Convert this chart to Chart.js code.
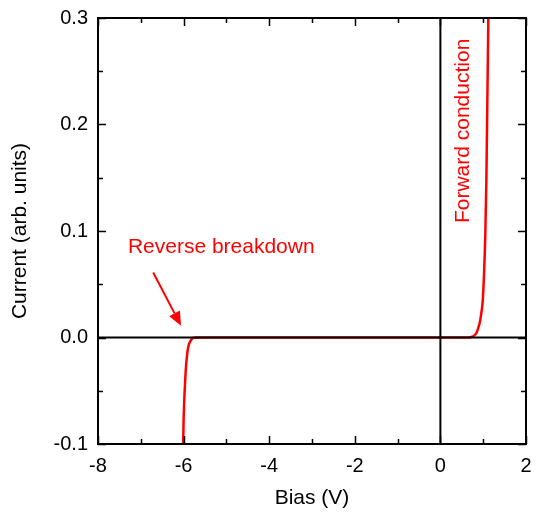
<!DOCTYPE html>
<html>
<head>
<meta charset="utf-8">
<script src="https://cdn.jsdelivr.net/npm/chart.js@4/dist/chart.umd.min.js"></script>
<style>
  html, body { margin: 0; padding: 0; background: #fff; }
  #wrap { width: 537px; height: 514px; }
</style>
</head>
<body>
<div id="wrap"><canvas id="ivChart" width="537" height="514"></canvas></div>
<script>
// Courbe I-V
const bias = [-6.01, -6.0, -5.985, -5.965, -5.945, -5.925, -5.905, -5.88, -5.85, -5.82, -5.79, -5.76, -5.7,
              0.6, 0.7, 0.78, 0.85, 0.9, 0.93, 0.96, 0.99, 1.02, 1.05, 1.075, 1.096, 1.11, 1.12];
const current = [-0.1, -0.078, -0.059, -0.042, -0.028, -0.019, -0.012, -0.007, -0.004, -0.002, -0.0008, -0.0002, 0,
                 0, 0.0003, 0.0015, 0.005, 0.011, 0.016, 0.024, 0.035, 0.06, 0.098, 0.15, 0.22, 0.265, 0.3];

// Graduations
const xMajorTicks = [-8, -6, -4, -2, 0, 2];
const xMinorTicks = [-7, -5, -3, -1, 1];
const yMajorTicks = [-0.1, 0.0, 0.1, 0.2, 0.3];
const yMinorTicks = [-0.05, 0.05, 0.15, 0.25];

// Annotations (en unités des axes)
const reverseLabel = { text: 'Reverse breakdown', x: -5.12, y: 0.085 };
const reverseArrow = { x0: -6.71, y0: 0.061, x1: -6.06, y1: 0.011 };
const forwardLabel = { text: 'Forward conduction', x: 0.53, y: 0.194 };

const FONT = '"Liberation Sans", Arial, sans-serif';

// Cadre, graduations internes, axes zéro et textes
const framePlugin = {
    id: 'framePlugin',
    afterDatasetsDraw(chart) {
        const { ctx, chartArea: a, scales: { x, y } } = chart;
        ctx.save();
        ctx.strokeStyle = '#000';
        ctx.lineWidth = 2;
        // lignes zéro
        ctx.beginPath();
        ctx.moveTo(a.left, y.getPixelForValue(0));
        ctx.lineTo(a.right, y.getPixelForValue(0));
        ctx.moveTo(x.getPixelForValue(0), a.top);
        ctx.lineTo(x.getPixelForValue(0), a.bottom);
        ctx.stroke();
        // cadre
        ctx.strokeRect(a.left, a.top, a.right - a.left, a.bottom - a.top);
        // graduations
        ctx.lineWidth = 1.5;
        ctx.beginPath();
        const tickX = (vals, len) => vals.forEach(v => {
            const px = Math.round(x.getPixelForValue(v)) + 0.5;
            ctx.moveTo(px, a.bottom); ctx.lineTo(px, a.bottom - len);
            ctx.moveTo(px, a.top); ctx.lineTo(px, a.top + len);
        });
        const tickY = (vals, len) => vals.forEach(v => {
            const py = Math.round(y.getPixelForValue(v)) + 0.5;
            ctx.moveTo(a.left, py); ctx.lineTo(a.left + len, py);
            ctx.moveTo(a.right, py); ctx.lineTo(a.right - len, py);
        });
        tickX(xMajorTicks, 8); tickX(xMinorTicks, 5);
        tickY(yMajorTicks, 8); tickY(yMinorTicks, 5);
        ctx.stroke();

        // textes rouges
        ctx.fillStyle = '#ff0000';
        ctx.strokeStyle = '#ff0000';
        ctx.font = '21px ' + FONT;
        ctx.textAlign = 'center';
        ctx.textBaseline = 'middle';
        ctx.fillText(reverseLabel.text, x.getPixelForValue(reverseLabel.x), y.getPixelForValue(reverseLabel.y));

        ctx.save();
        ctx.translate(x.getPixelForValue(forwardLabel.x), y.getPixelForValue(forwardLabel.y));
        ctx.rotate(-Math.PI / 2);
        ctx.fillText(forwardLabel.text, 0, 0);
        ctx.restore();

        // flèche
        const x0 = x.getPixelForValue(reverseArrow.x0), y0 = y.getPixelForValue(reverseArrow.y0);
        const x1 = x.getPixelForValue(reverseArrow.x1), y1 = y.getPixelForValue(reverseArrow.y1);
        const ang = Math.atan2(y1 - y0, x1 - x0);
        const hl = 14, hw = 6;
        const bx = x1 - hl * Math.cos(ang), by = y1 - hl * Math.sin(ang);
        ctx.lineWidth = 2;
        ctx.beginPath();
        ctx.moveTo(x0, y0); ctx.lineTo(bx, by);
        ctx.stroke();
        ctx.beginPath();
        ctx.moveTo(x1, y1);
        ctx.lineTo(bx + hw * Math.sin(ang), by - hw * Math.cos(ang));
        ctx.lineTo(bx - hw * Math.sin(ang), by + hw * Math.cos(ang));
        ctx.closePath();
        ctx.fill();
        ctx.restore();
    }
};

const ctx1 = document.getElementById('ivChart').getContext('2d');
const ivChart = new Chart(ctx1, {
    type: 'scatter',
    data: {
        datasets: [{
            data: bias.map((b, i) => ({ x: b, y: current[i] })),
            showLine: true,
            borderColor: '#ff0000',
            borderWidth: 2.5,
            pointRadius: 0,
            cubicInterpolationMode: 'monotone',
            fill: false
        }]
    },
    options: {
        responsive: false,
        animation: false,
        events: [],
        layout: { padding: { top: 18, right: 11, left: 0, bottom: 0 } },
        plugins: { legend: { display: false }, tooltip: { enabled: false } },
        scales: {
            x: {
                type: 'linear',
                min: -8, max: 2,
                afterBuildTicks: s => { s.ticks = xMajorTicks.map(v => ({ value: v })); },
                afterFit: s => { s.height = 70; s.paddingLeft = 0; s.paddingRight = 0; },
                grid: { display: false, drawTicks: false },
                border: { display: false },
                ticks: { color: '#000', padding: 10, font: { family: FONT, size: 20 } },
                title: { display: true, text: 'Bias (V)', color: '#000', padding: { top: 0, bottom: 3 }, font: { family: FONT, size: 21 } }
            },
            y: {
                type: 'linear',
                min: -0.1, max: 0.3,
                afterBuildTicks: s => { s.ticks = yMajorTicks.map(v => ({ value: v })); },
                afterFit: s => { s.width = 98; s.paddingTop = 0; s.paddingBottom = 0; },
                grid: { display: false, drawTicks: false },
                border: { display: false },
                ticks: { color: '#000', padding: 10, font: { family: FONT, size: 20 },
                         callback: v => v.toFixed(1) },
                title: { display: true, text: 'Current (arb. units)', color: '#000', padding: { top: 8, bottom: 0 }, font: { family: FONT, size: 21 } }
            }
        }
    },
    plugins: [framePlugin]
});
</script>
</body>
</html>
